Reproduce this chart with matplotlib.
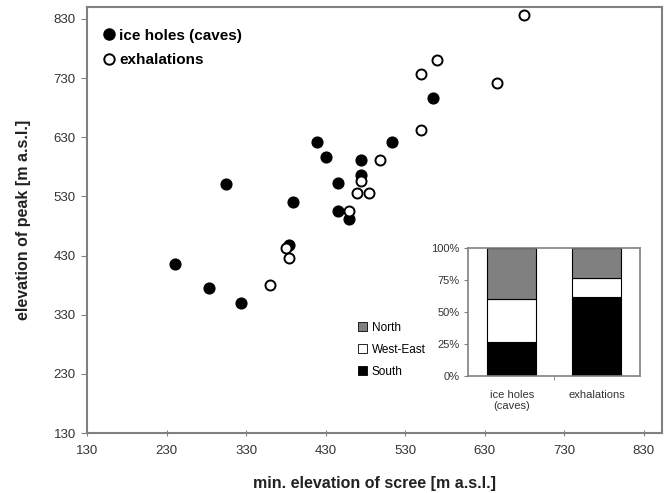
import numpy as np
import matplotlib
matplotlib.use('Agg')
from matplotlib import pyplot as plt
from matplotlib.patches import Patch
from matplotlib.lines import Line2D

plt.rcParams['font.family'] = ['Liberation Sans', 'DejaVu Sans']

# ice holes (caves) - filled
ice_x = [240, 283, 323, 305, 389, 384, 419, 430, 445, 445, 460, 475, 475, 514, 565]
ice_y = [415, 375, 350, 551, 521, 448, 621, 596, 552, 506, 491, 591, 566, 621, 696]

# exhalations - open
exh_x = [360, 380, 384, 460, 475, 469, 485, 499, 550, 550, 570, 645, 680]
exh_y = [380, 443, 426, 506, 556, 536, 536, 591, 642, 737, 761, 721, 837]

ticks = [130, 230, 330, 430, 530, 630, 730, 830]

# inset: aspect shares (%)
groups = ['ice holes\n(caves)', 'exhalations']
south = [26.7, 61.5]
west_east = [33.3, 15.4]
north = [40.0, 23.1]

grey = '#808080'
txt = '#333333'

fig = plt.figure(figsize=(6.70, 4.93), dpi=100)
ax = fig.add_axes([0.1299, 0.1217, 0.8582, 0.8641])

ax.scatter(ice_x, ice_y, s=60, c='black', edgecolors='black', linewidths=1, zorder=3)
ax.scatter(exh_x, exh_y, s=52, c='white', edgecolors='black', linewidths=1.4, zorder=3)

ax.set_xlim(130, 853)
ax.set_ylim(130, 850)
ax.set_xticks(ticks)
ax.set_yticks(ticks)
ax.tick_params(axis='x', direction='inout', length=5, color=grey, labelsize=9.5, labelcolor=txt, pad=6)
ax.tick_params(axis='y', direction='out', length=4, color=grey, labelsize=9.5, labelcolor=txt, pad=4)
for s in ax.spines.values():
    s.set_color(grey)
    s.set_linewidth(1.5)

ax.set_xlabel('min. elevation of scree [m a.s.l.]', fontsize=11.5, fontweight='bold', color='#222222')
ax.set_ylabel('elevation of peak [m a.s.l.]', fontsize=11.5, fontweight='bold', color='#222222')
ax.xaxis.set_label_coords(0.5, -0.102)
ax.yaxis.set_label_coords(-0.097, 0.5)

h = [Line2D([], [], marker='o', ls='', mfc='black', mec='black', ms=8),
     Line2D([], [], marker='o', ls='', mfc='white', mec='black', mew=1.4, ms=7.5)]
ax.legend(h, ['ice holes (caves)', 'exhalations'], loc='upper left', frameon=False,
          prop={'weight': 'bold', 'size': 11}, handletextpad=0.05, labelspacing=0.68,
          borderaxespad=0.4, handlelength=1.2, bbox_to_anchor=(0.001, 0.978))

# inset
ai = fig.add_axes([0.6985, 0.2373, 0.2567, 0.2596])
pos = np.arange(len(groups))
w = 0.58
ai.bar(pos, south, w, color='black', edgecolor='black', linewidth=0.8)
ai.bar(pos, west_east, w, bottom=south, color='white', edgecolor='black', linewidth=0.8)
bot2 = [a + b for a, b in zip(south, west_east)]
ai.bar(pos, north, w, bottom=bot2, color=grey, edgecolor='black', linewidth=0.8)
ai.set_xlim(-0.52, 1.515)
ai.set_ylim(0, 100)
ai.set_yticks([0, 25, 50, 75, 100])
ai.set_yticklabels(['0%', '25%', '50%', '75%', '100%'])
ai.set_xticks(pos)
ai.set_xticklabels(groups)
ai.set_xticks([0.5], minor=True)
ai.tick_params(axis='x', which='major', length=0, labelsize=8, labelcolor=txt, pad=10)
ai.tick_params(axis='x', which='minor', direction='out', length=3, color=grey)
ai.tick_params(axis='y', direction='out', length=3, color=grey, labelsize=8, labelcolor=txt, pad=3)
for s in ai.spines.values():
    s.set_color(grey)
    s.set_linewidth(1.2)

lh = [Patch(facecolor=grey, edgecolor='black', linewidth=0.6),
      Patch(facecolor='white', edgecolor='black', linewidth=0.6),
      Patch(facecolor='black', edgecolor='black', linewidth=0.6)]
fig.legend(lh, ['North', 'West-East', 'South'], loc='center left', frameon=False,
           bbox_to_anchor=(0.534, 0.29), fontsize=8.5, handlelength=0.8, handleheight=0.8,
           handletextpad=0.4, labelspacing=0.85, borderpad=0, borderaxespad=0)

fig.savefig('out.png', dpi=100)
